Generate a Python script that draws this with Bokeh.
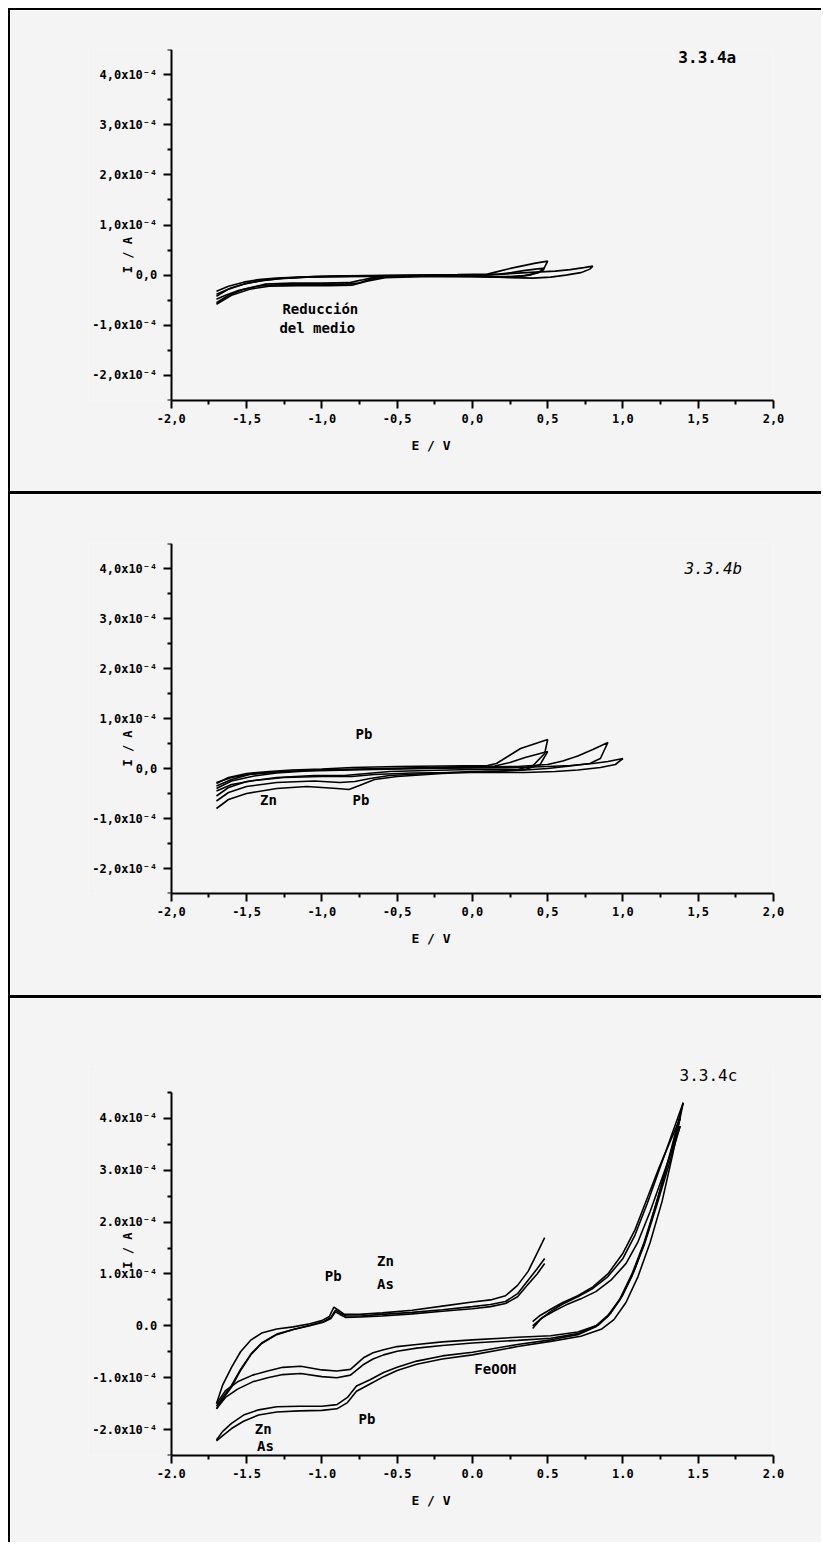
import math
from bokeh.plotting import figure
from bokeh.layouts import column, row
from bokeh.models import FixedTicker, Label, Div
from bokeh.embed import file_html
from bokeh.resources import INLINE

# ---------------- data: E in V, I in units of 1e-4 A ----------------
x_ticks = [-2.0, -1.5, -1.0, -0.5, 0.0, 0.5, 1.0, 1.5, 2.0]
x_labels_comma = ["-2,0", "-1,5", "-1,0", "-0,5", "0,0", "0,5", "1,0", "1,5", "2,0"]
x_labels_dot = ["-2.0", "-1.5", "-1.0", "-0.5", "0.0", "0.5", "1.0", "1.5", "2.0"]
y_ticks = [-2, -1, 0, 1, 2, 3, 4]
y_labels_comma = ["-2,0x10⁻⁴", "-1,0x10⁻⁴", "0,0", "1,0x10⁻⁴", "2,0x10⁻⁴", "3,0x10⁻⁴", "4,0x10⁻⁴"]
y_labels_dot = ["-2.0x10⁻⁴", "-1.0x10⁻⁴", "0.0", "1.0x10⁻⁴", "2.0x10⁻⁴", "3.0x10⁻⁴", "4.0x10⁻⁴"]

# panel 3.3.4a
a_cycle1 = [(-1.70,-0.32),(-1.62,-0.22),(-1.52,-0.14),(-1.42,-0.09),(-1.30,-0.06),(-1.15,-0.04),(-0.95,-0.02),
            (-0.70,-0.01),(-0.40,0.00),(-0.10,0.01),(0.10,0.02),(0.18,0.08),(0.26,0.14),(0.34,0.19),(0.42,0.24),
            (0.50,0.28),(0.47,0.10),(0.38,0.00),(0.28,-0.03),(0.15,-0.03),(0.00,-0.02),(-0.30,-0.02),(-0.55,-0.03),
            (-0.68,-0.08),(-0.76,-0.16),(-0.85,-0.18),(-1.05,-0.18),(-1.25,-0.18),(-1.42,-0.22),(-1.55,-0.30),
            (-1.64,-0.40),(-1.70,-0.48)]
a_cycle2 = [(-1.70,-0.38),(-1.60,-0.25),(-1.50,-0.16),(-1.38,-0.10),(-1.25,-0.06),(-1.05,-0.03),(-0.80,-0.02),
            (-0.50,-0.01),(-0.20,0.00),(0.10,0.01),(0.20,0.02),(0.30,0.04),(0.42,0.06),(0.55,0.08),(0.65,0.11),
            (0.74,0.15),(0.80,0.18),(0.78,0.12),(0.72,0.05),(0.62,0.00),(0.52,-0.04),(0.40,-0.06),(0.25,-0.05),
            (0.10,-0.03),(-0.20,-0.02),(-0.50,-0.02),(-0.65,-0.04),(-0.74,-0.10),(-0.82,-0.15),(-1.00,-0.16),
            (-1.20,-0.16),(-1.38,-0.18),(-1.52,-0.28),(-1.62,-0.40),(-1.70,-0.55)]
a_cycle3 = [(-1.70,-0.42),(-1.62,-0.28),(-1.52,-0.18),(-1.40,-0.11),(-1.28,-0.07),(-1.10,-0.04),(-0.85,-0.03),
            (-0.55,-0.02),(-0.25,-0.01),(0.05,0.00),(0.18,0.02),(0.26,0.05),(0.34,0.09),(0.42,0.12),(0.48,0.14),
            (0.44,0.05),(0.35,-0.01),(0.20,-0.04),(0.00,-0.03),(-0.35,-0.03),(-0.58,-0.05),(-0.70,-0.12),
            (-0.80,-0.20),(-0.95,-0.21),(-1.15,-0.21),(-1.35,-0.22),(-1.48,-0.28),(-1.60,-0.40),(-1.70,-0.58)]

# panel 3.3.4b
b_cycle1 = [(-1.70,-0.30),(-1.62,-0.18),(-1.50,-0.10),(-1.35,-0.06),(-1.20,-0.03),(-1.00,-0.01),(-0.80,0.02),
            (-0.50,0.04),(-0.20,0.05),(0.10,0.06),(0.16,0.10),(0.24,0.25),(0.32,0.40),(0.40,0.48),(0.50,0.58),
            (0.48,0.30),(0.40,0.05),(0.30,-0.02),(0.15,-0.02),(0.00,-0.02),(-0.30,-0.04),(-0.55,-0.06),
            (-0.70,-0.10),(-0.85,-0.14),(-1.05,-0.14),(-1.30,-0.18),(-1.50,-0.26),(-1.62,-0.38),(-1.70,-0.55)]
b_cycle2 = [(-1.70,-0.35),(-1.60,-0.22),(-1.48,-0.12),(-1.30,-0.07),(-1.10,-0.04),(-0.85,-0.02),(-0.60,0.00),
            (-0.30,0.02),(0.00,0.04),(0.15,0.05),(0.25,0.12),(0.35,0.22),(0.45,0.30),(0.50,0.34),
            (0.45,0.08),(0.35,-0.02),(0.20,-0.05),(0.00,-0.06),(-0.30,-0.10),(-0.55,-0.14),(-0.68,-0.20),
            (-0.78,-0.26),(-0.88,-0.28),(-1.05,-0.25),(-1.30,-0.28),(-1.50,-0.36),(-1.62,-0.48),(-1.70,-0.65)]
b_cycle3 = [(-1.70,-0.40),(-1.60,-0.25),(-1.45,-0.15),(-1.30,-0.09),(-1.10,-0.05),(-0.80,-0.03),(-0.50,-0.01),
            (-0.20,0.01),(0.10,0.03),(0.30,0.04),(0.50,0.08),(0.60,0.15),(0.70,0.25),(0.80,0.38),(0.90,0.52),
            (0.85,0.20),(0.78,0.10),(0.65,0.05),(0.50,0.00),(0.30,-0.04),(0.10,-0.06),(-0.20,-0.10),(-0.50,-0.16),
            (-0.65,-0.22),(-0.75,-0.34),(-0.82,-0.42),(-0.90,-0.40),(-1.10,-0.36),(-1.30,-0.40),(-1.50,-0.50),
            (-1.62,-0.62),(-1.70,-0.80)]
b_cycle4 = [(-1.70,-0.28),(-1.60,-0.18),(-1.45,-0.10),(-1.25,-0.06),(-1.00,-0.03),(-0.70,-0.01),(-0.40,0.00),
            (0.00,0.01),(0.30,0.02),(0.50,0.04),(0.65,0.06),(0.80,0.10),(0.90,0.14),(1.00,0.20),
            (0.95,0.08),(0.85,0.02),(0.70,-0.03),(0.55,-0.06),(0.35,-0.08),(0.15,-0.08),(-0.10,-0.08),
            (-0.40,-0.09),(-0.65,-0.12),(-0.80,-0.16),(-1.00,-0.16),(-1.25,-0.18),(-1.45,-0.24),(-1.60,-0.32),
            (-1.70,-0.45)]

# panel 3.3.4c
c_anodic1 = [(-1.70,-1.50),(-1.66,-1.15),(-1.60,-0.80),(-1.54,-0.50),(-1.47,-0.27),(-1.40,-0.14),(-1.30,-0.06),
             (-1.19,-0.02),(-1.08,0.04),(-1.00,0.10),(-0.95,0.18),(-0.92,0.36),(-0.89,0.30),(-0.85,0.22),
             (-0.75,0.22),(-0.60,0.25),(-0.40,0.30),(-0.20,0.38),(0.00,0.46),(0.12,0.50),(0.22,0.58),(0.30,0.78),
             (0.37,1.05),(0.43,1.40),(0.48,1.70)]
c_anodic2 = [(-1.70,-1.60),(-1.66,-1.42),(-1.60,-1.18),(-1.54,-0.86),(-1.47,-0.55),(-1.40,-0.34),(-1.30,-0.17),
             (-1.19,-0.07),(-1.08,0.01),(-0.99,0.08),(-0.94,0.16),(-0.91,0.30),(-0.88,0.25),(-0.84,0.19),
             (-0.74,0.19),(-0.60,0.22),(-0.40,0.26),(-0.20,0.31),(0.00,0.37),(0.12,0.41),(0.22,0.47),(0.30,0.62),
             (0.37,0.88),(0.43,1.10),(0.48,1.30)]
c_anodic3 = [(-1.70,-1.55),(-1.66,-1.38),(-1.60,-1.15),(-1.54,-0.84),(-1.47,-0.54),(-1.40,-0.33),(-1.30,-0.16),
             (-1.19,-0.07),(-1.08,0.00),(-0.99,0.07),(-0.94,0.14),(-0.91,0.27),(-0.88,0.22),(-0.84,0.16),
             (-0.74,0.17),(-0.60,0.19),(-0.40,0.23),(-0.20,0.28),(0.00,0.33),(0.12,0.37),(0.22,0.43),(0.30,0.56),
             (0.37,0.80),(0.43,1.00),(0.48,1.20)]
c_oxid1 = [(0.40,-0.05),(0.45,0.12),(0.52,0.28),(0.60,0.42),(0.70,0.56),(0.80,0.72),(0.90,0.95),(1.00,1.30),
           (1.08,1.75),(1.16,2.35),(1.24,3.00),(1.32,3.65),(1.40,4.30)]
c_oxid2 = [(0.40,0.08),(0.45,0.20),(0.52,0.32),(0.60,0.45),(0.70,0.58),(0.80,0.75),(0.90,1.00),(1.00,1.40),
           (1.08,1.85),(1.16,2.45),(1.24,3.05),(1.32,3.60),(1.38,4.00)]
c_oxid3 = [(0.40,0.00),(0.46,0.15),(0.54,0.28),(0.62,0.40),(0.72,0.52),(0.82,0.66),(0.92,0.88),(1.02,1.20),
           (1.10,1.62),(1.18,2.20),(1.26,2.85),(1.34,3.50),(1.38,3.85)]
c_reduc1 = [(1.40,4.30),(1.32,3.40),(1.24,2.55),(1.16,1.75),(1.08,1.10),(1.00,0.60),(0.92,0.25),(0.84,0.02),
            (0.70,-0.12),(0.52,-0.19),(0.30,-0.22),(0.00,-0.27),(-0.20,-0.31),(-0.37,-0.36),(-0.50,-0.40),
            (-0.59,-0.46),(-0.66,-0.52),(-0.72,-0.61),(-0.81,-0.84),(-0.90,-0.87),(-1.00,-0.85),(-1.14,-0.78),
            (-1.26,-0.80),(-1.36,-0.87),(-1.46,-0.95),(-1.56,-1.08),(-1.64,-1.25),(-1.70,-1.50)]
c_reduc2 = [(1.38,4.00),(1.30,3.15),(1.22,2.35),(1.14,1.60),(1.06,1.00),(0.98,0.52),(0.90,0.20),(0.82,0.00),
            (0.70,-0.15),(0.52,-0.24),(0.30,-0.28),(0.00,-0.33),(-0.20,-0.38),(-0.37,-0.43),(-0.50,-0.49),
            (-0.59,-0.56),(-0.66,-0.64),(-0.72,-0.74),(-0.81,-0.95),(-0.90,-1.00),(-1.00,-0.98),(-1.14,-0.92),
            (-1.26,-0.94),(-1.36,-1.00),(-1.46,-1.08),(-1.56,-1.22),(-1.64,-1.38),(-1.70,-1.60)]
c_reduc3 = [(1.38,3.85),(1.30,3.05),(1.22,2.28),(1.14,1.55),(1.06,0.96),(0.98,0.50),(0.90,0.18),(0.82,-0.02),
            (0.70,-0.17),(0.52,-0.27),(0.30,-0.36),(0.00,-0.51),(-0.20,-0.58),(-0.37,-0.68),(-0.50,-0.80),
            (-0.59,-0.90),(-0.68,-1.04),(-0.77,-1.16),(-0.83,-1.38),(-0.90,-1.52),(-1.00,-1.55),(-1.15,-1.55),
            (-1.30,-1.56),(-1.42,-1.62),(-1.52,-1.72),(-1.60,-1.88),(-1.66,-2.04),(-1.70,-2.20)]
c_reduc4 = [(1.40,4.30),(1.33,3.30),(1.26,2.40),(1.18,1.60),(1.10,0.95),(1.02,0.45),(0.94,0.12),(0.86,-0.06),
            (0.72,-0.20),(0.52,-0.30),(0.30,-0.40),(0.00,-0.56),(-0.20,-0.64),(-0.37,-0.74),(-0.50,-0.86),
            (-0.59,-0.98),(-0.68,-1.12),(-0.77,-1.26),(-0.83,-1.48),(-0.90,-1.60),(-1.00,-1.63),(-1.15,-1.64),
            (-1.30,-1.66),(-1.42,-1.72),(-1.52,-1.84),(-1.60,-1.98),(-1.66,-2.12),(-1.70,-2.22)]

# ---------------- styling ----------------
BG = "#f4f4f4"
MONO = "DejaVu Sans Mono"
W = 811


def tick_map(ticks, labels):
    out = {}
    for t, l in zip(ticks, labels):
        out[int(t) if float(t).is_integer() else t] = l
    return out


def make_panel(height, top, bottom, y_end, ylabels, xlabels, curves, notes, ylab_at,
               title, title_style, title_pos):
    p = figure(width=W, height=height, x_range=(-2.55, 2.0), y_range=(-2.5, y_end),
               output_backend="svg", toolbar_location=None, margin=0,
               min_border_left=78, min_border_right=48, min_border_top=top, min_border_bottom=bottom,
               background_fill_color=BG, border_fill_color=BG, outline_line_color=None)
    p.grid.visible = False
    p.xaxis.ticker = FixedTicker(ticks=x_ticks, minor_ticks=[-1.75, -1.25, -0.75, -0.25, 0.25, 0.75, 1.25, 1.75])
    p.yaxis.ticker = FixedTicker(ticks=y_ticks, minor_ticks=[-2.5, -1.5, -0.5, 0.5, 1.5, 2.5, 3.5, 4.5])
    p.xaxis.major_label_overrides = tick_map(x_ticks, xlabels)
    p.yaxis.major_label_overrides = tick_map(y_ticks, ylabels)
    p.xaxis.bounds = (-2.0, 2.0)
    p.yaxis.bounds = (-2.5, 4.5)
    p.yaxis.fixed_location = -2.0
    p.xaxis.axis_label = "E / V"
    for ax in (p.xaxis, p.yaxis):
        ax.axis_line_width = 2
        ax.axis_line_color = "black"
        ax.major_tick_line_width = 2
        ax.minor_tick_line_width = 2
        ax.major_tick_line_color = "black"
        ax.minor_tick_line_color = "black"
        ax.major_tick_in = 0
        ax.minor_tick_in = 0
        ax.major_tick_out = 8
        ax.minor_tick_out = 4
        ax.major_label_text_font = MONO
        ax.major_label_text_font_style = "bold"
        ax.major_label_text_font_size = "12px"
        ax.major_label_text_color = "black"
        ax.axis_label_text_font = MONO
        ax.axis_label_text_font_style = "bold"
        ax.axis_label_text_font_size = "13px"
        ax.axis_label_text_color = "black"
    p.xaxis.major_label_standoff = 5
    p.xaxis.axis_label_standoff = 12
    p.yaxis.major_label_standoff = 6
    for c in curves:
        p.line([e for e, i in c], [i for e, i in c], line_color="black", line_width=1.6)
    for (txt, ex, iy) in notes:
        p.add_layout(Label(x=ex, y=iy, text=txt, text_font=MONO, text_font_style="bold",
                           text_font_size="14px", text_align="center", text_baseline="middle",
                           text_color="black"))
    # vertical axis title, sitting between two tick-label rows as in the original
    p.add_layout(Label(x=-2.286, y=ylab_at, text="I / A", angle=math.pi / 2, text_font=MONO,
                       text_font_style="bold", text_font_size="12px", text_align="center",
                       text_baseline="middle", text_color="black"))
    p.add_layout(Label(x=title_pos[0], y=title_pos[1], text=title, text_font=MONO,
                       text_font_style=title_style, text_font_size="16px", text_align="center",
                       text_baseline="middle", text_color="black"))
    return p


pa = make_panel(481, 39, 91, 4.5, y_labels_comma, x_labels_comma,
                [a_cycle1, a_cycle2, a_cycle3],
                [("Reducción", -1.01, -0.68), ("del medio", -1.03, -1.06)], 0.40,
                "3.3.4a", "bold", (1.56, 4.34))
pb = make_panel(501, 49, 102, 4.5, y_labels_comma, x_labels_comma,
                [b_cycle1, b_cycle2, b_cycle3, b_cycle4],
                [("Pb", -0.72, 0.70), ("Pb", -0.74, -0.62), ("Zn", -1.355, -0.62)], 0.40,
                "3.3.4b", "italic", (1.60, 4.0))
pc = make_panel(544, 68, 87, 5.0, y_labels_dot, x_labels_dot,
                [c_anodic1, c_anodic2, c_anodic3, c_oxid1, c_oxid2, c_oxid3,
                 c_reduc1, c_reduc2, c_reduc3, c_reduc4],
                [("Pb", -0.924, 0.96), ("Zn", -0.578, 1.25), ("As", -0.578, 0.81),
                 ("FeOOH", 0.153, -0.83), ("Pb", -0.70, -1.79), ("Zn", -1.39, -1.99), ("As", -1.375, -2.31)],
                1.45, "3.3.4c", "normal", (1.568, 4.83))


def bar(w, h):
    return Div(text="", width=w, height=h, margin=0, styles={"background-color": "black"})


total_h = 2 + 481 + 3 + 501 + 3 + 544
layout = row(bar(2, total_h),
             column(bar(W, 2), pa, bar(W, 3), pb, bar(W, 3), pc, spacing=0, margin=0),
             spacing=0, margin=(8, 0, 0, 8))

open("out.html", "w").write(file_html(layout, INLINE))
